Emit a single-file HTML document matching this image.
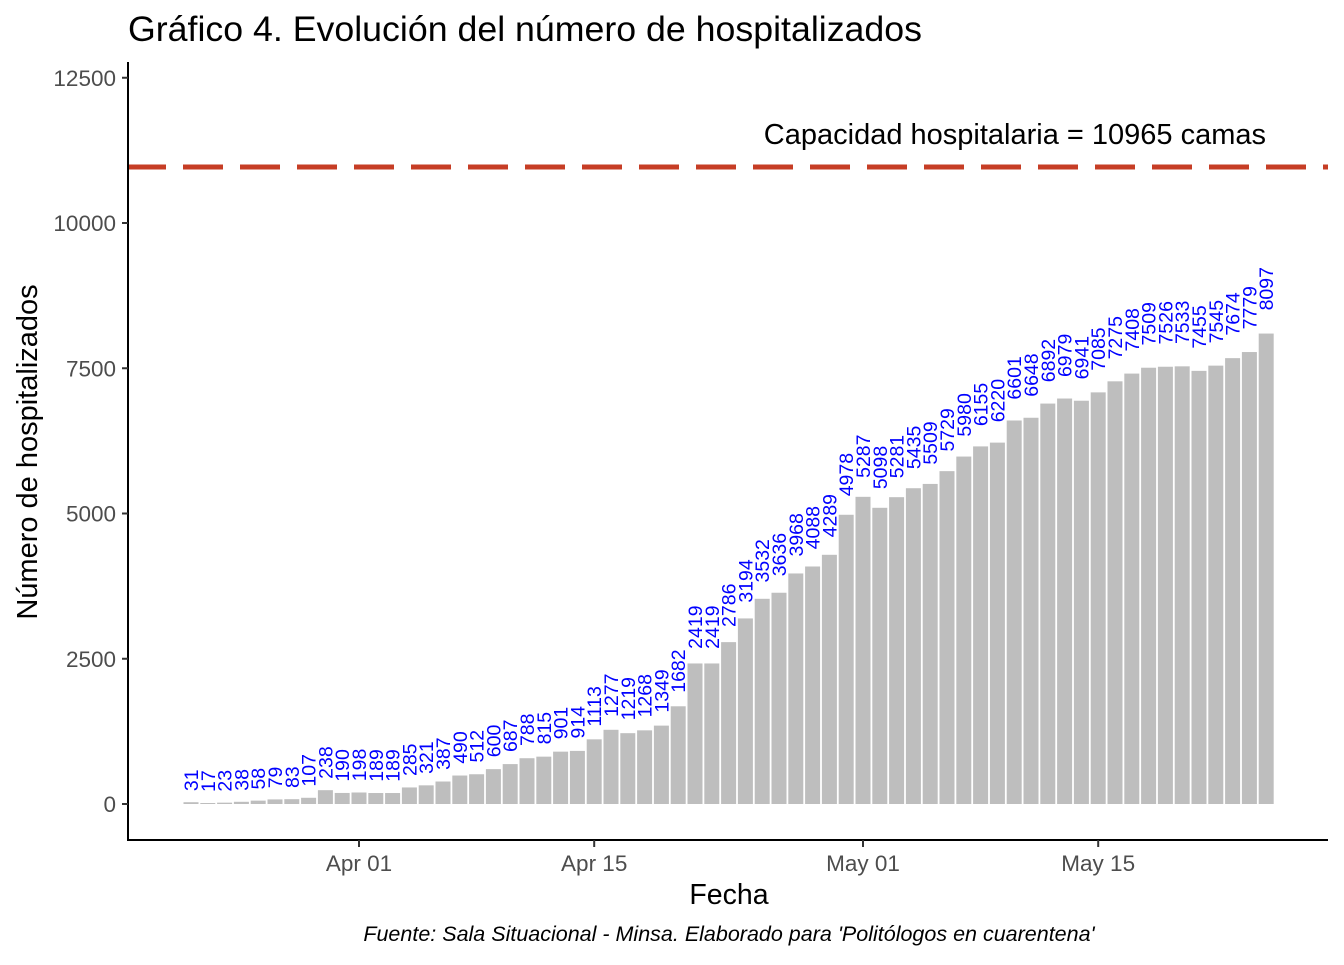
<!DOCTYPE html>
<html><head><meta charset="utf-8"><style>
body{margin:0;background:#fff;}
svg text{font-family:"Liberation Sans",sans-serif;}
</style></head><body>
<svg id="chart" width="1344" height="960" xmlns="http://www.w3.org/2000/svg">
<text x="128" y="41" font-size="35" fill="#000" textLength="794" lengthAdjust="spacingAndGlyphs">Gráfico 4. Evolución del número de hospitalizados</text>
<g id="bars"></g>
<g id="labels"></g>
<line x1="128" y1="167" x2="1328" y2="167" stroke="#C63D25" stroke-width="5" stroke-dasharray="40 17" stroke-dashoffset="2"/>
<text x="1266" y="144" font-size="29" text-anchor="end" fill="#000">Capacidad hospitalaria = 10965 camas</text>
<line x1="128" y1="62" x2="128" y2="841" stroke="#000" stroke-width="2"/>
<line x1="127" y1="840" x2="1328" y2="840" stroke="#000" stroke-width="2"/>
<g id="yticks"></g>
<g id="xticks"></g>
<text x="729" y="904" font-size="28.5" text-anchor="middle">Fecha</text>
<text transform="translate(37,452) rotate(-90)" font-size="29" text-anchor="middle">Número de hospitalizados</text>
<text x="729" y="941" font-size="21.5" font-style="italic" text-anchor="middle">Fuente: Sala Situacional - Minsa. Elaborado para 'Politólogos en cuarentena'</text>
</svg>
<script>
const values=[31,17,23,38,58,79,83,107,238,190,198,189,189,285,321,387,490,512,600,687,788,815,901,914,1113,1277,1219,1268,1349,1682,2419,2419,2786,3194,3532,3636,3968,4088,4289,4978,5287,5098,5281,5435,5509,5729,5980,6155,6220,6601,6648,6892,6979,6941,7085,7275,7408,7509,7526,7533,7455,7545,7674,7779,8097];
const startDayOffset=-10; // days relative to Apr 01 (Mar 22)
const yTicks=[0,2500,5000,7500,10000,12500];
const xTickLabels=["Apr 01","Apr 15","May 01","May 15"];
const xTickDays=[0,14,30,44];
const NS="http://www.w3.org/2000/svg";
const y=v=>804-v*0.0581;
const x=d=>359+d*16.8;
const bars=document.getElementById('bars'),labels=document.getElementById('labels');
values.forEach((v,i)=>{
  const cx=x(startDayOffset+i);
  const r=document.createElementNS(NS,'rect');
  r.setAttribute('x',cx-7.5);r.setAttribute('width',15);
  r.setAttribute('y',y(v));r.setAttribute('height',804-y(v));
  r.setAttribute('fill','#BEBEBE');
  
  
  bars.appendChild(r);
  const t=document.createElementNS(NS,'text');
  const ty=y(v)-11-v*0.0015;
  t.setAttribute('transform',`translate(${cx+7},${ty}) rotate(-90)`);
  t.setAttribute('font-size','19.5');t.setAttribute('fill','#0000FF');
  t.textContent=v;
  
  
  labels.appendChild(t);
});
const yt=document.getElementById('yticks');
yTicks.forEach(v=>{
  const l=document.createElementNS(NS,'line');
  l.setAttribute('x1',122);l.setAttribute('x2',128);l.setAttribute('y1',y(v));l.setAttribute('y2',y(v));
  l.setAttribute('stroke','#333');l.setAttribute('stroke-width',2);
  
  
  yt.appendChild(l);
  const t=document.createElementNS(NS,'text');
  t.setAttribute('x',116);t.setAttribute('y',y(v)+8);t.setAttribute('text-anchor','end');
  t.setAttribute('font-size','22.5');t.setAttribute('fill','#4D4D4D');t.textContent=v;
  
  
  yt.appendChild(t);
});
const xt=document.getElementById('xticks');
xTickDays.forEach((d,i)=>{
  const l=document.createElementNS(NS,'line');
  l.setAttribute('x1',x(d));l.setAttribute('x2',x(d));l.setAttribute('y1',840);l.setAttribute('y2',847);
  l.setAttribute('stroke','#333');l.setAttribute('stroke-width',2);
  
  
  xt.appendChild(l);
  const t=document.createElementNS(NS,'text');
  t.setAttribute('x',x(d));t.setAttribute('y',871);t.setAttribute('text-anchor','middle');
  t.setAttribute('font-size','22.5');t.setAttribute('fill','#4D4D4D');t.textContent=xTickLabels[i];
  
  
  xt.appendChild(t);
});
</script>
</body></html>
